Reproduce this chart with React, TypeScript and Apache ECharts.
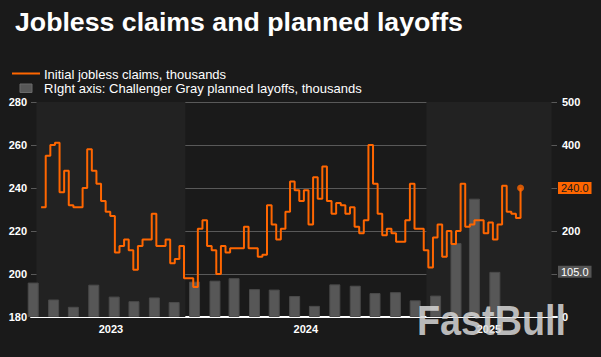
import React, { useEffect, useRef } from "react";
import * as echarts from "echarts";

const TITLE = "Jobless claims and planned layoffs";
const CLAIMS_NAME = "Initial jobless claims, thousands";
const LAYOFFS_NAME = "RIght axis: Challenger Gray planned layoffs, thousands";
const WATERMARK = "FastBull";

// Weekly initial jobless claims (thousands), week ending 2023-05-27 onward
const FIRST_WEEK: [number, number, number] = [2023, 5, 27];
const claims: number[] = [
  231, 255, 260, 261, 238, 248, 232, 231, 231, 240,
  258, 248, 242, 234, 229, 227, 210, 213, 216, 211,
  202, 213, 216, 216, 228, 213, 213, 216, 205, 207,
  213, 198, 198, 194, 221, 225, 213, 211, 200, 213,
  210, 212, 212, 212, 222, 212, 212, 208, 209, 232,
  223, 216, 221, 229, 243, 239, 234, 239, 223, 245,
  235, 250, 234, 228, 233, 232, 228, 231, 222, 219,
  225, 260, 242, 228, 218, 221, 219, 215, 215, 225,
  242, 221, 221, 211, 203, 217, 223, 208, 220, 214,
  220, 242, 222, 223, 225, 225, 219, 224, 216, 223,
  241, 229, 228, 226, 240,
];

// Monthly Challenger Gray planned layoffs (thousands)
const layoffMonths: string[] = [
  "2023-05", "2023-06", "2023-07", "2023-08", "2023-09", "2023-10", "2023-11", "2023-12",
  "2024-01", "2024-02", "2024-03", "2024-04", "2024-05", "2024-06", "2024-07", "2024-08",
  "2024-09", "2024-10", "2024-11", "2024-12", "2025-01", "2025-02", "2025-03", "2025-04",
];
const layoffs: number[] = [
  80.1, 40.7, 23.7, 75.2, 47.5, 36.8, 45.5, 34.8,
  82.3, 84.6, 90.3, 64.8, 63.8, 48.8, 25.9, 75.9,
  72.8, 55.6, 57.7, 38.8, 49.8, 172.0, 275.2, 105.0,
];

const AXIS_START: [number, number, number] = [2023, 5, 20];
const AXIS_END: [number, number, number] = [2025, 7, 10];
const years: number[] = [2023, 2024, 2025];
const leftAxis = { min: 180, max: 280, interval: 20 };
const rightAxis = { min: 0, max: 500, interval: 100 };

const ORANGE = "#ff6600";
const FONT = "Liberation Sans, Arial, sans-serif";

const day = (y: number, m: number, d: number) => new Date(y, m - 1, d).getTime();

export default function App() {
  const ref = useRef<HTMLDivElement>(null);

  useEffect(() => {
    if (!ref.current) return;
    const chart = echarts.init(ref.current, undefined, { renderer: "svg" });

    const xMin = day(...AXIS_START);
    const xMax = day(...AXIS_END);
    const claimData = claims.map((v, i) => [
      day(FIRST_WEEK[0], FIRST_WEEK[1], FIRST_WEEK[2] + 7 * i),
      v,
    ]);
    const layoffData = layoffMonths.map((m, i) => {
      const [y, mo] = m.split("-").map(Number);
      return [day(y, mo, 15), layoffs[i]];
    });
    const last = claimData[claimData.length - 1];
    const lastLayoff = layoffs[layoffs.length - 1];

    const bands = years.map((y) => [
      Math.max(xMin, day(y, 1, 1)),
      Math.min(xMax, day(y + 1, 1, 1)),
    ]);

    const leftToRight = (v: number) =>
      ((v - leftAxis.min) / (leftAxis.max - leftAxis.min)) * (rightAxis.max - rightAxis.min) + rightAxis.min;
    const lastOnRight = leftToRight(last[1] as number);

    const calloutLine = { color: "rgba(0,0,0,0)", width: 1, type: "solid" };

    const option: any = {
      animation: false,
      backgroundColor: "#1a1a1a",
      textStyle: { fontFamily: FONT },
      title: {
        text: TITLE,
        left: 10,
        top: 3,
        textStyle: { color: "#ffffff", fontSize: 26.7, fontWeight: "bold", fontFamily: FONT },
      },
      grid: { left: 31, right: 44, top: 102, bottom: 40 },
      xAxis: {
        type: "time",
        min: xMin,
        max: xMax,
        axisLine: { show: true, lineStyle: { color: "#ffffff", width: 2 } },
        axisTick: { show: false },
        splitLine: { show: false },
        axisLabel: { show: false },
      },
      yAxis: [
        {
          type: "value",
          position: "left",
          min: leftAxis.min,
          max: leftAxis.max,
          interval: leftAxis.interval,
          axisLine: { show: false },
          axisTick: { show: false },
          splitLine: { show: true, lineStyle: { color: "#595959", width: 1 } },
          axisLabel: { color: "#ffffff", fontSize: 11, fontWeight: "bold", margin: 4 },
        },
        {
          type: "value",
          position: "right",
          min: rightAxis.min,
          max: rightAxis.max,
          interval: rightAxis.interval,
          axisLine: { show: false },
          axisTick: { show: false },
          splitLine: { show: false },
          axisLabel: {
            color: "#ffffff",
            fontSize: 11,
            fontWeight: "bold",
            margin: 5,
            formatter: (v: number) =>
              Math.abs(v - lastOnRight) < 25 || Math.abs(v - lastLayoff) < 25 ? "" : String(v),
          },
        },
      ],
      series: [
        {
          name: LAYOFFS_NAME,
          type: "bar",
          yAxisIndex: 1,
          data: layoffData,
          barWidth: 11,
          itemStyle: { color: "#575757", borderColor: "#4a4a4a", borderWidth: 1 },
          markArea: {
            silent: true,
            label: { show: false },
            data: bands.map(([a, b], i) => [
              { xAxis: a, itemStyle: { color: i % 2 === 0 ? "#222222" : "rgba(0,0,0,0)" } },
              { xAxis: b },
            ]),
          },
          markLine: {
            silent: true,
            symbol: ["none", "none"],
            lineStyle: calloutLine,
            data: [{ yAxis: lastLayoff }],
            label: {
              show: true,
              position: "end",
              distance: 1,
              formatter: lastLayoff.toFixed(1),
              backgroundColor: "#555555",
              color: "#ffffff",
              fontSize: 11,
              lineHeight: 12,
              padding: [0, 3, 0, 3],
            },
          },
        },
        {
          name: CLAIMS_NAME,
          type: "line",
          step: "end",
          yAxisIndex: 0,
          data: claimData,
          showSymbol: false,
          lineStyle: { color: ORANGE, width: 2 },
          itemStyle: { color: ORANGE },
          z: 4,
          markArea: {
            silent: true,
            itemStyle: { color: "rgba(0,0,0,0)" },
            label: {
              show: true,
              position: "bottom",
              distance: 6,
              color: "#ffffff",
              fontSize: 11,
              fontWeight: "bold",
            },
            data: bands.map(([a, b], i) => [
              { xAxis: a, name: String(years[i]) },
              { xAxis: b },
            ]),
          },
          markLine: {
            silent: true,
            symbol: ["none", "none"],
            lineStyle: calloutLine,
            data: [{ yAxis: last[1] }],
            label: {
              show: true,
              position: "end",
              distance: 1,
              formatter: (last[1] as number).toFixed(1),
              backgroundColor: ORANGE,
              color: "#1a1a1a",
              fontSize: 11,
              lineHeight: 12,
              padding: [0, 3, 0, 3],
            },
          },
        },
        {
          name: "last",
          type: "scatter",
          yAxisIndex: 0,
          data: [last],
          symbolSize: 7,
          itemStyle: { color: ORANGE },
          z: 5,
        },
      ],
      graphic: [
        {
          type: "line",
          shape: { x1: 12, y1: 73.5, x2: 40, y2: 73.5 },
          style: { stroke: ORANGE, lineWidth: 2 },
        },
        {
          type: "text",
          x: 44,
          y: 74.7,
          style: { text: CLAIMS_NAME, fill: "#ffffff", font: `13px ${FONT}`, verticalAlign: "middle" },
        },
        {
          type: "rect",
          shape: { x: 20, y: 84, width: 12, height: 8.5 },
          style: { fill: "#575757", stroke: "#6a6a6a", lineWidth: 1 },
        },
        {
          type: "text",
          x: 44,
          y: 88.2,
          style: { text: LAYOFFS_NAME, fill: "#ffffff", font: `13px ${FONT}`, verticalAlign: "middle" },
        },
        {
          type: "text",
          x: 417,
          y: 320,
          scaleX: 0.9,
          z: 3,
          style: {
            text: WATERMARK,
            fill: "rgba(215,215,215,0.85)",
            font: `bold 42px ${FONT}`,
            verticalAlign: "middle",
          },
        },
      ],
    };

    chart.setOption(option);
    return () => chart.dispose();
  }, []);

  return <div ref={ref} style={{ width: 601, height: 357, position: "absolute", left: 0, top: 0 }} />;
}
